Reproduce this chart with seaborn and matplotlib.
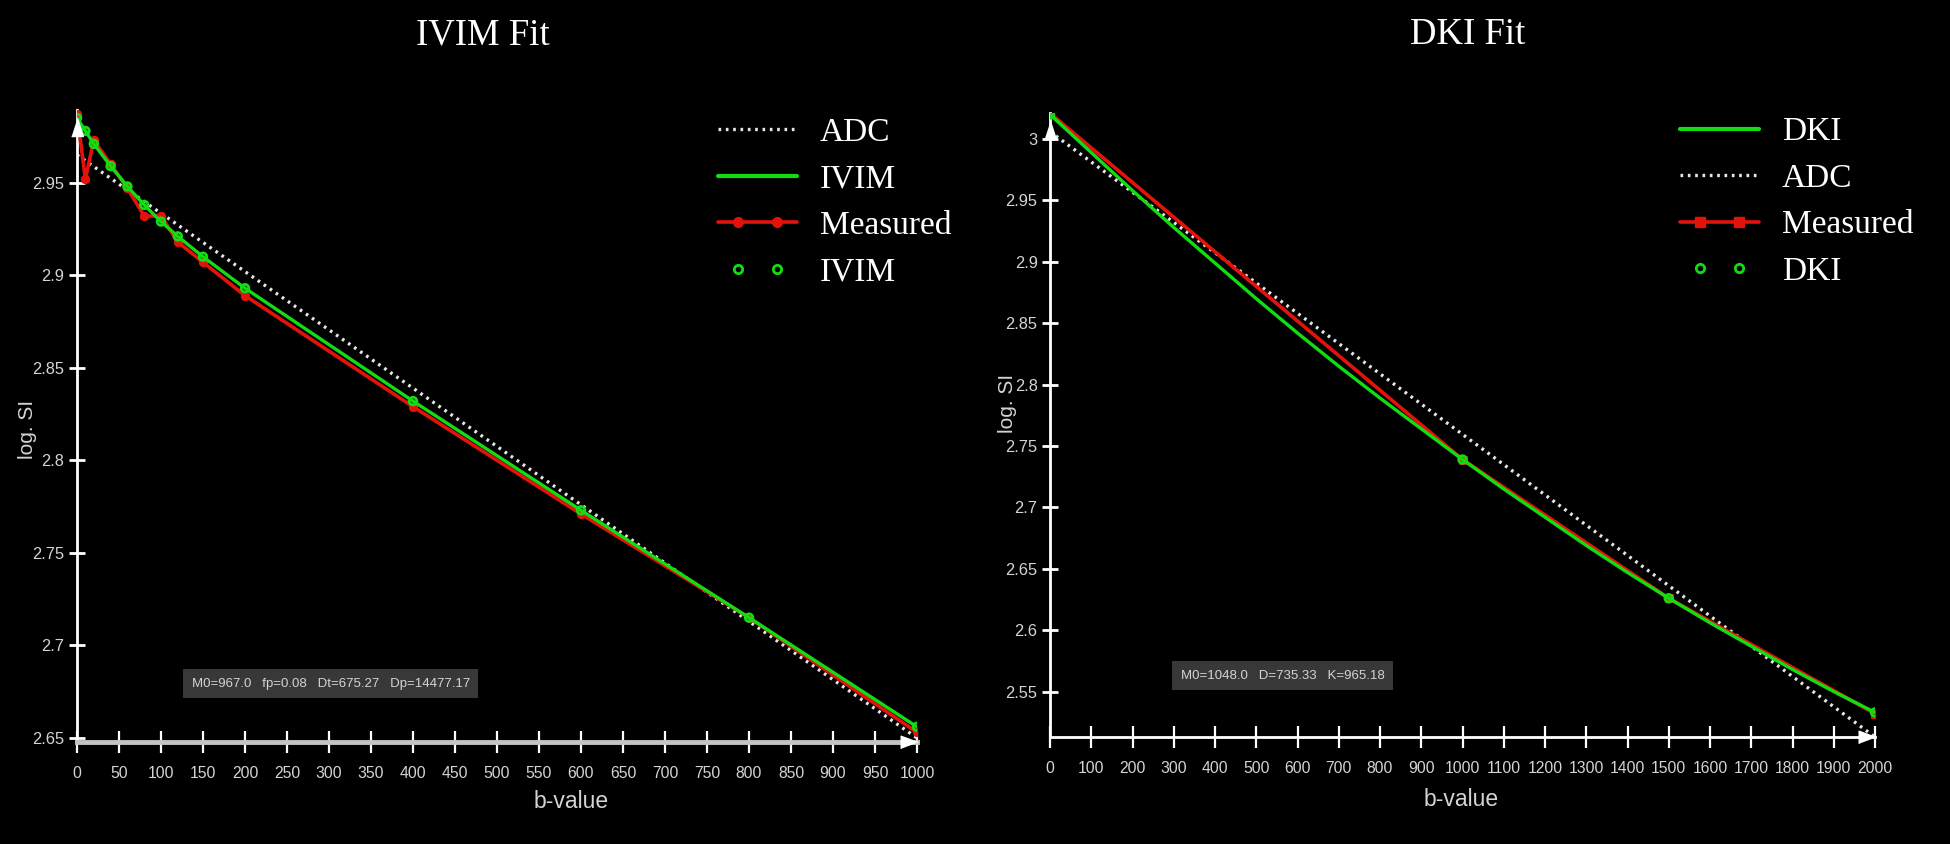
import matplotlib
matplotlib.use("Agg")
import numpy as np
import matplotlib.pyplot as plt
import seaborn as sns
from matplotlib import font_manager
from matplotlib.lines import Line2D
from matplotlib.legend_handler import HandlerLine2D
from matplotlib.ticker import FixedLocator, FuncFormatter

# --- IVIM panel data ---
ivim_b = [0, 10, 20, 40, 60, 80, 100, 120, 150, 200, 400, 600, 800, 1000]
ivim_measured = [2.987, 2.952, 2.973, 2.960, 2.947, 2.932, 2.932, 2.918, 2.907, 2.889,
                 2.829, 2.771, 2.715, 2.653]
ivim_fit = [2.985, 2.978, 2.971, 2.959, 2.948, 2.938, 2.929, 2.921, 2.910, 2.893,
            2.832, 2.773, 2.715, 2.656]
ivim_adc_b = [0, 1000]
ivim_adc = [2.965, 2.650]
ivim_yticks = [2.65, 2.7, 2.75, 2.8, 2.85, 2.9, 2.95]
ivim_xticks = list(range(0, 1001, 50))
ivim_params = "M0=967.0   fp=0.08   Dt=675.27   Dp=14477.17"

# --- DKI panel data ---
dki_curve_b = [0, 100, 200, 300, 400, 500, 600, 700, 800, 900, 1000,
               1100, 1200, 1300, 1400, 1500, 1600, 1700, 1800, 1900, 2000]
dki_curve = [3.020, 2.989, 2.958, 2.928, 2.899, 2.870, 2.842, 2.815, 2.789, 2.764, 2.739,
             2.715, 2.692, 2.669, 2.647, 2.626, 2.606, 2.587, 2.568, 2.550, 2.533]
dki_b = [0, 1000, 1500, 2000]
dki_measured = [3.021, 2.739, 2.626, 2.532]
dki_fit_pts = [3.020, 2.739, 2.626, 2.533]
dki_adc_b = [0, 2000]
dki_adc = [3.006, 2.513]
dki_yticks = [2.55, 2.6, 2.65, 2.7, 2.75, 2.8, 2.85, 2.9, 2.95, 3.0]
dki_xticks = list(range(0, 2001, 100))
dki_params = "M0=1048.0   D=735.33   K=965.18"

RED = "#e3120b"
GREEN = "#12dd12"
DOT = "#e6e6e6"
TXT = "#d4d4d4"

sns.set_theme(style="ticks", rc={"axes.facecolor": "black", "figure.facecolor": "black",
                                 "axes.edgecolor": "white", "axes.grid": False})
names = {f.name for f in font_manager.fontManager.ttflist}
NARROW = "Liberation Sans Narrow" if "Liberation Sans Narrow" in names else "Liberation Sans"
plt.rcParams["font.family"] = [NARROW, "DejaVu Sans"]

W, H = 1950, 844
fig = plt.figure(figsize=(W / 100, H / 100), dpi=100)


class FullLineHandler(HandlerLine2D):
    # line across the whole handle; markers only at 1/4 and 3/4
    def create_artists(self, legend, orig_handle, xdescent, ydescent, width, height,
                       fontsize, trans):
        x0 = -xdescent
        xdata = np.array([x0, x0 + 0.25 * width, x0 + 0.75 * width, x0 + width])
        ydata = np.full_like(xdata, (height - ydescent) / 2)
        legline = Line2D(xdata, ydata)
        self.update_prop(legline, orig_handle, legend)
        legline.set_markevery([1, 2])
        legline.set_transform(trans)
        return [legline]


def px_axes(x0, x1, ytop, ybot):
    return fig.add_axes([x0 / W, 1 - ybot / H, (x1 - x0) / W, (ybot - ytop) / H])


tri_up = [(-0.65, -1), (0.65, -1), (0, 1)]
tri_right = [(-1, -0.75), (-1, 0.75), (1, 0)]


def panel(ax, b, meas, fit_b, fit, pts, adc_b, adc, xlim, ylim, xticks, yticks,
          meas_marker, title, title_x, params, box_xy, xlab_xy, ylab_xy,
          legend_order, legend_anchor, xspine_color, xspine_lw):
    sns.lineplot(x=adc_b, y=adc, ax=ax, color=DOT, linewidth=2.4,
                 linestyle=(0, (0.8, 1.4)), zorder=2)
    sns.lineplot(x=b, y=meas, ax=ax, color=RED, linewidth=2.6, marker=meas_marker,
                 markersize=6, markeredgecolor=RED, estimator=None, sort=False, zorder=3)
    sns.lineplot(x=fit_b, y=fit, ax=ax, color=GREEN, linewidth=2.4,
                 estimator=None, sort=False, zorder=4)
    sns.scatterplot(x=b, y=pts, ax=ax, marker="o", s=30, facecolor="none",
                    edgecolor=GREEN, linewidth=2, zorder=5)

    ax.set_xlim(*xlim)
    ax.set_ylim(*ylim)
    ax.xaxis.set_major_locator(FixedLocator(xticks))
    ax.yaxis.set_major_locator(FixedLocator(yticks))
    ax.yaxis.set_major_formatter(FuncFormatter(lambda v, p: f"{v:g}"))
    ax.tick_params(axis="x", direction="inout", length=16, width=1.6, color="white",
                   labelcolor=TXT, labelsize=11.3, pad=9, bottom=True)
    ax.tick_params(axis="y", direction="inout", length=12, width=2, color="white",
                   labelcolor=TXT, labelsize=11.8, pad=3, left=True)
    for s in ("top", "right"):
        ax.spines[s].set_visible(False)
    ax.spines["left"].set_color("white")
    ax.spines["left"].set_linewidth(2)
    ax.spines["bottom"].set_color(xspine_color)
    ax.spines["bottom"].set_linewidth(xspine_lw)

    ax.plot([0], [0.973], marker=tri_up, markersize=13, color="white", transform=ax.transAxes,
            clip_on=False, zorder=6)
    ax.plot([0.99], [0], marker=tri_right, markersize=12, color="white",
            transform=ax.transAxes, clip_on=False, zorder=6)

    ax.set_xlabel("b-value", fontsize=16.5, color=TXT)
    ax.xaxis.set_label_coords(*xlab_xy)
    ax.set_ylabel("log. SI", fontsize=15, color=TXT, family="Liberation Sans")
    ax.yaxis.set_label_coords(*ylab_xy)
    ax.yaxis.label.set_verticalalignment("center")

    ax.text(box_xy[0], box_xy[1], params, transform=ax.transAxes, ha="center", va="center",
            fontsize=9.5, color=TXT,
            bbox=dict(boxstyle="square,pad=0.65", fc="#383838", ec="none"))

    fig.text(title_x / W, 1 - 35 / H, title, ha="center", va="center", color="white",
             fontsize=26.5, family="Liberation Serif")

    proxies = {
        "adc": Line2D([], [], color=DOT, linewidth=2.4, linestyle=(0, (0.8, 1.4))),
        "fit": Line2D([], [], color=GREEN, linewidth=3),
        "meas": Line2D([], [], color=RED, linewidth=2.6, marker=meas_marker, markersize=7),
        "pts": Line2D([], [], color=GREEN, linestyle="none", marker="o", markersize=6,
                      markerfacecolor="none", markeredgewidth=2),
    }
    handles = [proxies[k] for k, _ in legend_order]
    labels = [lab for _, lab in legend_order]
    hm = {h: FullLineHandler() for h in handles}
    ax.legend(handles, labels, loc="upper left", bbox_to_anchor=legend_anchor,
              frameon=False, prop=dict(family="Liberation Serif", size=24),
              labelcolor="white", handlelength=2.37, handletextpad=0.69,
              labelspacing=0.48, borderpad=0, borderaxespad=0, handler_map=hm)


ax1 = px_axes(77, 917, 110, 742)
panel(ax1, ivim_b, ivim_measured, ivim_b, ivim_fit, ivim_fit, ivim_adc_b, ivim_adc,
      (0, 1000), (2.6478, 2.9893), ivim_xticks, ivim_yticks, "o",
      "IVIM Fit", 483, ivim_params, (0.302, 0.092), (0.588, -0.076), (-0.0595, 0.494),
      [("adc", "ADC"), ("fit", "IVIM"), ("meas", "Measured"), ("pts", "IVIM")],
      (0.763, 0.988), "#c4c4c4", 3.5)

ax2 = px_axes(1050, 1875, 113, 737)
panel(ax2, dki_b, dki_measured, dki_curve_b, dki_curve, dki_fit_pts, dki_adc_b, dki_adc,
      (0, 2000), (2.5130, 3.0212), dki_xticks, dki_yticks, "s",
      "DKI Fit", 1468, dki_params, (0.282, 0.098), (0.498, -0.082), (-0.052, 0.534),
      [("fit", "DKI"), ("adc", "ADC"), ("meas", "Measured"), ("pts", "DKI")],
      (0.7636, 0.994), "white", 2)

fig.savefig("out.png", dpi=100, facecolor="black")
